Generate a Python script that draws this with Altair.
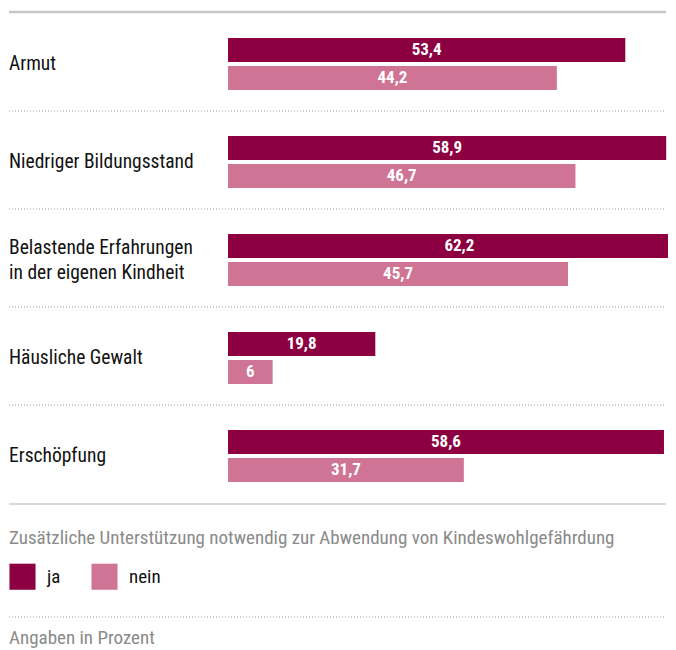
import altair as alt
import pandas as pd

categories = ["Armut", "Niedriger Bildungsstand",
              "Belastende Erfahrungen\nin der eigenen Kindheit",
              "Häusliche Gewalt", "Erschöpfung"]
ja = [53.4, 58.9, 62.2, 19.8, 58.6]
nein = [44.2, 46.7, 45.7, 6, 31.7]
groups = ["ja", "nein"]
colors = ["#8c0041", "#cf7494"]
legend_title = "Zusätzliche Unterstützung notwendig zur Abwendung von Kindeswohlgefährdung"
footer = "Angaben in Prozent"

FONT = "Roboto Condensed, Liberation Sans Narrow, DejaVu Sans Condensed, sans-serif"

rows = []
for c, a, b in zip(categories, ja, nein):
    rows.append({"cat": c, "grp": "ja", "value": a})
    rows.append({"cat": c, "grp": "nein", "value": b})
df = pd.DataFrame(rows)

base = alt.Chart(df).transform_calculate(
    mid="datum.value / 2",
    lbl="replace(toString(datum.value), '.', ',')",
)

y_enc = alt.Y("cat:N", sort=categories, axis=None,
              scale=alt.Scale(paddingInner=0, paddingOuter=0))
yoff_enc = alt.YOffset("grp:N", sort=groups,
                       scale=alt.Scale(paddingInner=0.142857, paddingOuter=0.8214))
x_scale = alt.Scale(domain=[0, 59.14], nice=False, zero=True)

bars = base.mark_bar(clip=True).encode(
    x=alt.X("value:Q", scale=x_scale, axis=None),
    y=y_enc,
    yOffset=yoff_enc,
    color=alt.Color("grp:N", scale=alt.Scale(domain=groups, range=colors),
                    legend=alt.Legend(
                        title=legend_title, orient="none",
                        legendX=-219, legendY=514, direction="horizontal",
                        titleFont=FONT, titleFontSize=19, titleColor="#8a8a8a",
                        titleFontWeight="normal", titleLimit=660, titlePadding=15,
                        symbolType="square", symbolSize=680, symbolStrokeWidth=0,
                        symbolOpacity=1, labelFont=FONT, labelFontSize=19,
                        labelColor="#111111", labelOffset=11, columnPadding=30,
                        padding=0)),
)

values = base.mark_text(color="white", fontSize=17, fontWeight="bold",
                        font=FONT, baseline="middle").encode(
    x=alt.X("mid:Q", scale=x_scale, axis=None),
    y=y_enc,
    yOffset=yoff_enc,
    text="lbl:N",
)

cat_df = pd.DataFrame({"cat": categories})
label_kw = dict(align="left", baseline="middle", fontSize=19.5, font=FONT,
                lineBreak="\n", lineHeight=25, color="#111111")
cat_single = alt.Chart(cat_df).transform_filter(
    "indexof(datum.cat, '\\n') < 0"
).mark_text(**label_kw).encode(
    x=alt.value(-219), y=alt.Y("cat:N", sort=categories, axis=None), text="cat:N")
cat_multi = alt.Chart(cat_df).transform_filter(
    "indexof(datum.cat, '\\n') >= 0"
).mark_text(dy=-12, **label_kw).encode(
    x=alt.value(-219), y=alt.Y("cat:N", sort=categories, axis=None), text="cat:N")

one = pd.DataFrame({"k": [0]})

def hline(ypix, color, width, dash=None):
    kw = dict(color=color, strokeWidth=width)
    if dash:
        kw["strokeDash"] = dash
    return alt.Chart(one).mark_rule(**kw).encode(
        x=alt.value(-219), x2=alt.value(438), y=alt.value(ypix))

lines = [
    hline(-3, "#c6c6c6", 2.5),
    hline(96, "#9a9a9a", 1, [1, 2]),
    hline(194, "#9a9a9a", 1, [1, 2]),
    hline(292, "#9a9a9a", 1, [1, 2]),
    hline(390, "#9a9a9a", 1, [1, 2]),
    hline(489, "#cccccc", 1.5),
    hline(602, "#9a9a9a", 1, [1, 2]),
]

foot = alt.Chart(pd.DataFrame({"t": [footer]})).mark_text(
    align="left", baseline="middle", fontSize=19, font=FONT, color="#8a8a8a",
).encode(x=alt.value(-219), y=alt.value(623), text="t:N")

chart = alt.layer(bars, values, cat_single, cat_multi, *lines, foot).properties(
    width=440, height=490,
    autosize=alt.AutoSizeParams(type="none"),
    padding={"left": 220, "top": 7, "right": 0, "bottom": 143},
).configure(font=FONT).configure_view(stroke=None)

chart.save("out.html", embed_options={"renderer": "svg", "actions": False})
